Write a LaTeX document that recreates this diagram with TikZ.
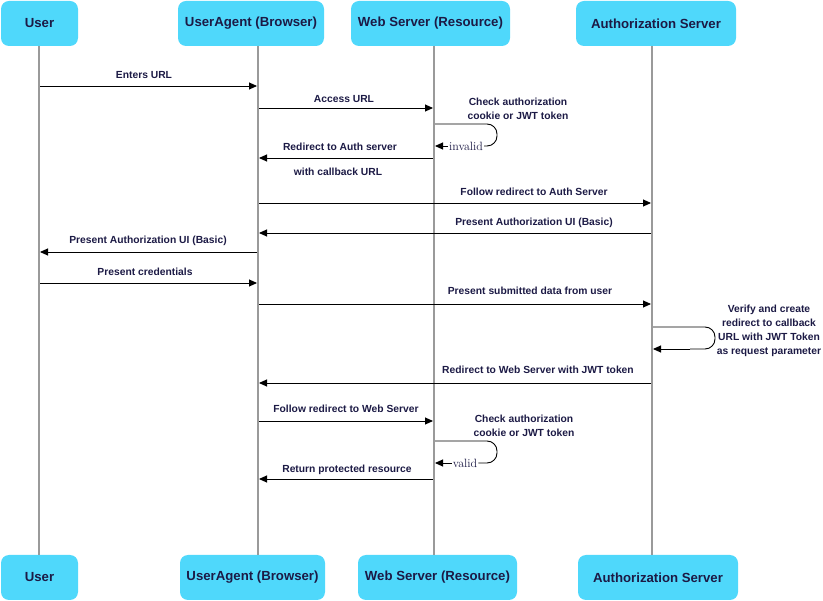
\documentclass[tikz,border=0pt]{standalone}
\usepackage{fontspec}
\setmainfont{Liberation Sans}
\usetikzlibrary{arrows.meta}
\definecolor{boxcyan}{HTML}{4FD8FB}
\definecolor{txt}{HTML}{1C1A45}
\definecolor{life}{HTML}{9A9A9A}
\tikzset{
  actor/.style={draw=none, fill=boxcyan, rounded corners=8pt, minimum height=45pt, inner sep=0pt, text=txt, font=\fontsize{13.2}{15}\selectfont\bfseries},
  lifeline/.style={draw=life, line width=2pt},
  msg/.style={draw=black, line width=0.9pt, -{Triangle[length=8pt,width=7pt]}},
  loopline/.style={draw=black, line width=0.9pt, rounded corners=10pt},
  lbl/.style={text=txt, font=\fontsize{10.3}{14}\selectfont\bfseries, inner sep=0pt, align=center},
  rlbl/.style={text=txt, font=\fontfamily{lmr}\fontsize{12}{13}\selectfont, fill=white, inner sep=1pt},
}
\begin{document}
\begin{tikzpicture}[x=1pt,y=-1pt]
\useasboundingbox (0,0) rectangle (823,601);
% actors top
\node[actor, minimum width=77pt] (uT) at (39.5,23.5) {User};
\node[actor, minimum width=146pt] (aT) at (251,23.5) {UserAgent (Browser)};
\node[actor, minimum width=159pt] (wT) at (430.5,23.5) {Web Server (Resource)};
\node[actor, minimum width=160pt] (sT) at (656,23.5) {Authorization Server};
% actors bottom
\node[actor, minimum width=77pt] (uB) at (39.5,577.5) {User};
\node[actor, minimum width=145pt] (aB) at (252.5,577.5) {UserAgent (Browser)};
\node[actor, minimum width=159pt] (wB) at (437.5,577.5) {Web Server (Resource)};
\node[actor, minimum width=160pt] (sB) at (658,577.5) {Authorization Server};
% lifeline ends
\coordinate (uTop) at (39,46);   \coordinate (uBot) at (39,555);
\coordinate (aTop) at (258,46);  \coordinate (aBot) at (258,555);
\coordinate (wTop) at (434,46);  \coordinate (wBot) at (434,555);
\coordinate (sTop) at (652,46);  \coordinate (sBot) at (652,555);
\draw[lifeline] (uTop) -- (uBot);
\draw[lifeline] (aTop) -- (aBot);
\draw[lifeline] (wTop) -- (wBot);
\draw[lifeline] (sTop) -- (sBot);
% message anchor points
\foreach \n/\y in {1/86,2/108,3a/124,3b/146,4/158,5/203,6/233,7/252,8/283,9/304,10a/327,10b/349,11/383,12/421,13a/441,13b/463,14/479}{
  \coordinate (u\n) at (40,\y);
  \coordinate (a\n) at (259,\y);
  \coordinate (w\n) at (435,\y);
  \coordinate (s\n) at (653,\y);
  \coordinate (uL\n) at (38,\y);
  \coordinate (aL\n) at (257,\y);
  \coordinate (wL\n) at (433,\y);
  \coordinate (sL\n) at (651,\y);
}
% 1
\draw[msg] (u1) -- (aL1);
\node[lbl] (t1) at (144,75) {Enters URL};
% 2
\draw[msg] (a2) -- (wL2);
\node[lbl] (t2) at (344,99) {Access URL};
% 3 self loop
\node[lbl] (t3) at (518,109) {Check authorization\\cookie or JWT token};
\node[rlbl] (inv) at (466,146) {invalid};
\draw[loopline] (w3a) -- (497,124) -- (497,146) -- (inv.east);
\draw[msg] (inv.west) -- (w3b);
% 4
\draw[msg] (wL4) -- (a4);
\node[lbl] (t4a) at (340,147) {Redirect to Auth server};
\node[lbl] (t4b) at (338,172) {with callback URL};
% 5
\draw[msg] (a5) -- (sL5);
\node[lbl] (t5) at (534,192) {Follow redirect to Auth Server};
% 6
\draw[msg] (sL6) -- (a6);
\node[lbl] (t6) at (534,223) {Present Authorization UI (Basic)};
% 7
\draw[msg] (aL7) -- (u7);
\node[lbl] (t7) at (148,241) {Present Authorization UI (Basic)};
% 8
\draw[msg] (u8) -- (aL8);
\node[lbl] (t8) at (145,272) {Present credentials};
% 9
\draw[msg] (a9) -- (sL9);
\node[lbl] (t9) at (530,291) {Present submitted data from user};
% 10 self loop
\node[lbl] (t10) at (769,331) {Verify and create\\redirect to callback\\URL with JWT Token\\as request parameter};
\draw[loopline] (s10a) -- (715,327) -- (715,349) -- (690,349);
\draw[msg] (690,349) -- (s10b);
% 11
\draw[msg] (sL11) -- (a11);
\node[lbl] (t11) at (538,370) {Redirect to Web Server with JWT token};
% 12
\draw[msg] (a12) -- (wL12);
\node[lbl] (t12) at (346,409) {Follow redirect to Web Server};
% 13 self loop
\node[lbl] (t13) at (524,426) {Check authorization\\cookie or JWT token};
\node[rlbl] (val) at (465,463) {valid};
\draw[loopline] (w13a) -- (497,441) -- (497,463) -- (val.east);
\draw[msg] (val.west) -- (w13b);
% 14
\draw[msg] (wL14) -- (a14);
\node[lbl] (t14) at (347,470) {Return protected resource};
\end{tikzpicture}
\end{document}
